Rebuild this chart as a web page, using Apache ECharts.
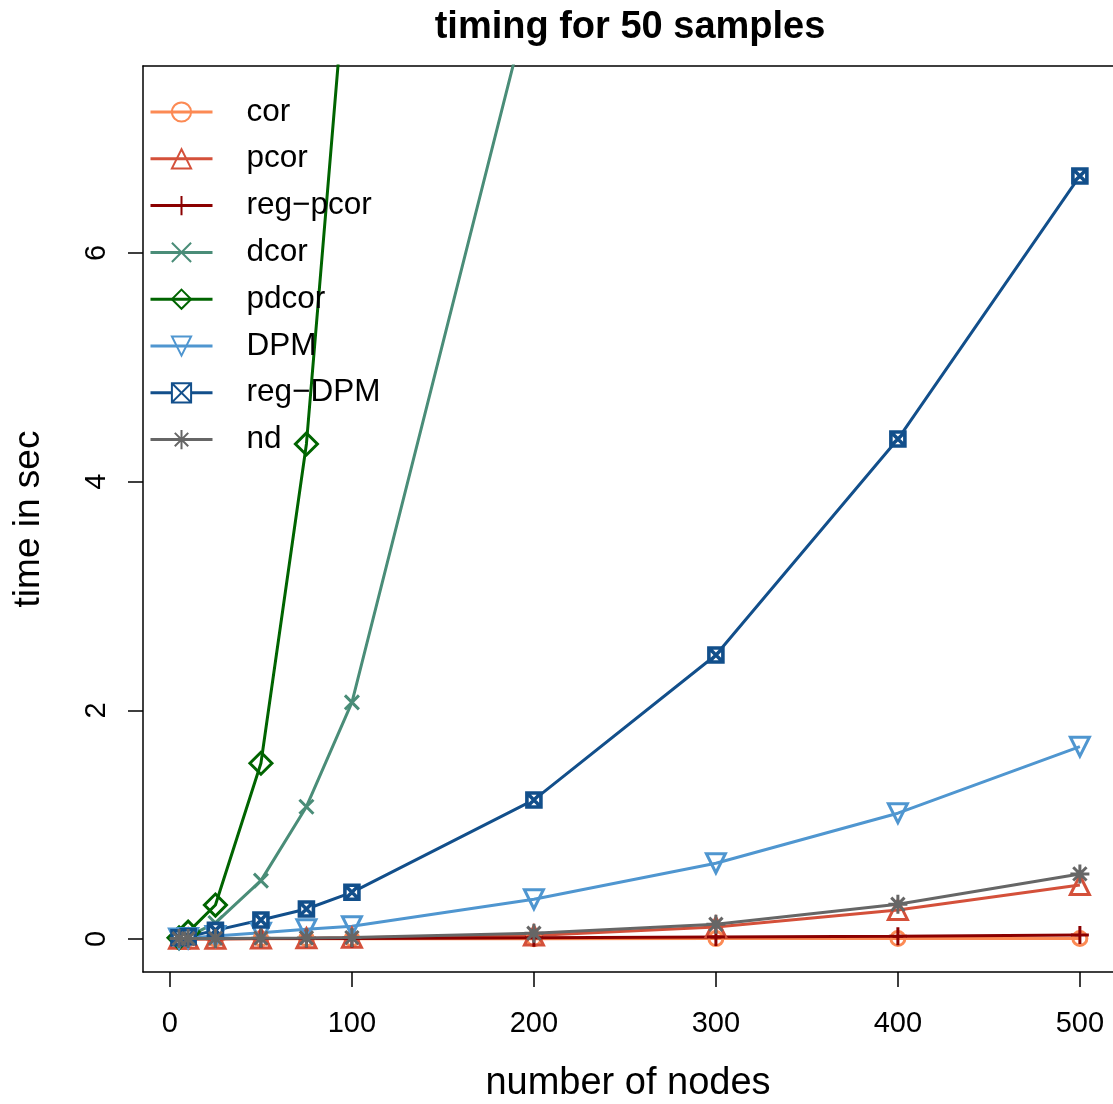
<!DOCTYPE html>
<html>
<head>
<meta charset="utf-8">
<script src="https://cdn.jsdelivr.net/npm/echarts@6/dist/echarts.min.js"></script>
<style>
  html, body { margin: 0; padding: 0; background: #fff; }
  #chart { width: 1113px; height: 1104px; }
</style>
</head>
<body>
<div id="chart"></div>
<script>
// number of nodes at which each method was timed
const nodes = [5, 10, 25, 50, 75, 100, 200, 300, 400, 500];

// timing in seconds for each method (50 samples)
const corTime    = [0.0005, 0.0006, 0.0008, 0.001, 0.0012, 0.0015, 0.002, 0.003, 0.004, 0.005];
const pcorTime   = [0.001, 0.001, 0.002, 0.004, 0.006, 0.01, 0.03, 0.105, 0.254, 0.472];
const regPcorTime= [0.001, 0.001, 0.002, 0.003, 0.004, 0.005, 0.01, 0.018, 0.024, 0.034];
const dcorTime   = [0.005, 0.02, 0.14, 0.51, 1.157, 2.07, 8.36];
const pdcorTime  = [0.01, 0.06, 0.297, 1.537, 4.33, 9.1];
const dpmTime    = [0.003, 0.008, 0.025, 0.055, 0.085, 0.112, 0.347, 0.662, 1.1, 1.682];
const regDpmTime = [0.01, 0.02, 0.075, 0.166, 0.262, 0.408, 1.216, 2.484, 4.373, 6.674];
const ndTime     = [0.003, 0.004, 0.005, 0.007, 0.009, 0.012, 0.05, 0.128, 0.303, 0.569];

const methodNames = ['cor', 'pcor', 'reg\u2212pcor', 'dcor', 'pdcor', 'DPM', 'reg\u2212DPM', 'nd'];

// tick labels
const xTicks = [0, 100, 200, 300, 400, 500];
const yTicks = [0, 2, 4, 6];

const FONT = "'Liberation Sans', Arial, Helvetica, sans-serif";
const LW = 3;

// plotting symbols in the style of R's pch 1..8
const SYM = {
  circle:   'circle',
  triUp:    'path://M5,0L10,8.66L0,8.66Z',
  plus:     'path://M5,0L5,10M0,5L10,5',
  cross:    'path://M0,0L10,10M10,0L0,10',
  diamond:  'path://M5,0L10,5L5,10L0,5Z',
  triDown:  'path://M0,0L10,0L5,8.66Z',
  boxCross: 'path://M0,0L10,0L10,10L0,10ZM0,0L10,10M10,0L0,10',
  star:     'path://M5,0L5,10M0,5L10,5M1.5,1.5L8.5,8.5M8.5,1.5L1.5,8.5'
};

const styles = [
  { data: corTime,     color: '#fc8a54', symbol: SYM.circle,   size: 14, fill: 'none',    bw: LW },
  { data: pcorTime,    color: '#d4503a', symbol: SYM.triUp,    size: 19, fill: 'none',    bw: LW },
  { data: regPcorTime, color: '#8b0000', symbol: SYM.plus,     size: 18, fill: 'none',    bw: LW },
  { data: dcorTime,    color: '#4a8d78', symbol: SYM.cross,    size: 14, fill: 'none',    bw: LW },
  { data: pdcorTime,   color: '#006400', symbol: SYM.diamond,  size: 22, fill: 'none',    bw: LW },
  { data: dpmTime,     color: '#4f96d0', symbol: SYM.triDown,  size: 19, fill: 'none',    bw: LW },
  { data: regDpmTime,  color: '#124f8b', symbol: SYM.boxCross, size: 14, fill: '#ffffff', bw: 3.6 },
  { data: ndTime,      color: '#666666', symbol: SYM.star,     size: 19, fill: 'none',    bw: LW }
];

const series = styles.map((s, k) => ({
  name: methodNames[k],
  type: 'line',
  data: s.data.map((v, i) => [nodes[i], v]),
  color: s.color,
  symbol: s.symbol,
  symbolSize: s.size,
  showAllSymbol: true,
  clip: true,
  lineStyle: { color: s.color, width: LW },
  itemStyle: { color: s.fill, borderColor: s.color, borderWidth: s.bw },
  emphasis: { disabled: true },
  animation: false
}));

// plot frame is drawn from axis lines: bottom, top and left (right edge lies beyond the page)
const frameLine = { show: true, onZero: false, lineStyle: { color: '#000', width: 1.5 } };
const X_MIN = -14.8, X_MAX = 518.2;

const chart = echarts.init(document.getElementById('chart'), null, { renderer: 'canvas' });

chart.setOption({
  backgroundColor: '#ffffff',
  animation: false,
  textStyle: { fontFamily: FONT },
  grid: {
    left: 143, top: 66, right: 0, height: 906, show: false,
    containLabel: false, outerBoundsMode: 'none'
  },
  graphic: [{
    type: 'text',
    x: 630, y: 28,
    style: {
      text: 'timing for 50 samples',
      font: 'bold 38px ' + FONT,
      fill: '#000',
      textAlign: 'center',
      textVerticalAlign: 'middle',
      verticalAlign: 'middle'
    }
  }],
  legend: {
    orient: 'vertical',
    left: 144,
    top: 91,
    itemWidth: 62,
    itemHeight: 24,
    itemGap: 14.8,
    selectedMode: false,
    data: methodNames,
    lineStyle: { width: LW },
    textStyle: {
      fontFamily: FONT, fontSize: 31.5, color: '#000',
      lineHeight: 29, padding: [0, 0, 0, 29]
    }
  },
  xAxis: [{
    type: 'value',
    min: X_MIN,
    max: X_MAX,
    position: 'bottom',
    name: 'number of nodes',
    nameLocation: 'middle',
    nameGap: 93,
    nameTextStyle: { fontFamily: FONT, fontSize: 38, color: '#000' },
    axisLine: frameLine,
    splitLine: { show: false },
    axisTick: {
      show: true, length: 15, customValues: xTicks,
      lineStyle: { color: '#000', width: 1.5 }
    },
    axisLabel: {
      customValues: xTicks,
      fontFamily: FONT, fontSize: 29, color: '#000', margin: 37
    }
  }, {
    type: 'value',
    min: X_MIN,
    max: X_MAX,
    position: 'top',
    axisLine: frameLine,
    axisTick: { show: false },
    axisLabel: { show: false },
    splitLine: { show: false }
  }],
  yAxis: {
    type: 'value',
    min: -0.289,
    max: 7.636,
    position: 'left',
    name: 'time in sec',
    nameLocation: 'middle',
    nameRotate: 90,
    nameGap: 96,
    nameTextStyle: { fontFamily: FONT, fontSize: 37, color: '#000' },
    axisLine: frameLine,
    splitLine: { show: false },
    axisTick: {
      show: true, length: 15, customValues: yTicks,
      lineStyle: { color: '#000', width: 1.5 }
    },
    axisLabel: {
      customValues: yTicks,
      rotate: 90,
      fontFamily: FONT, fontSize: 29, color: '#000', margin: 32
    }
  },
  series: series
});
</script>
</body>
</html>
